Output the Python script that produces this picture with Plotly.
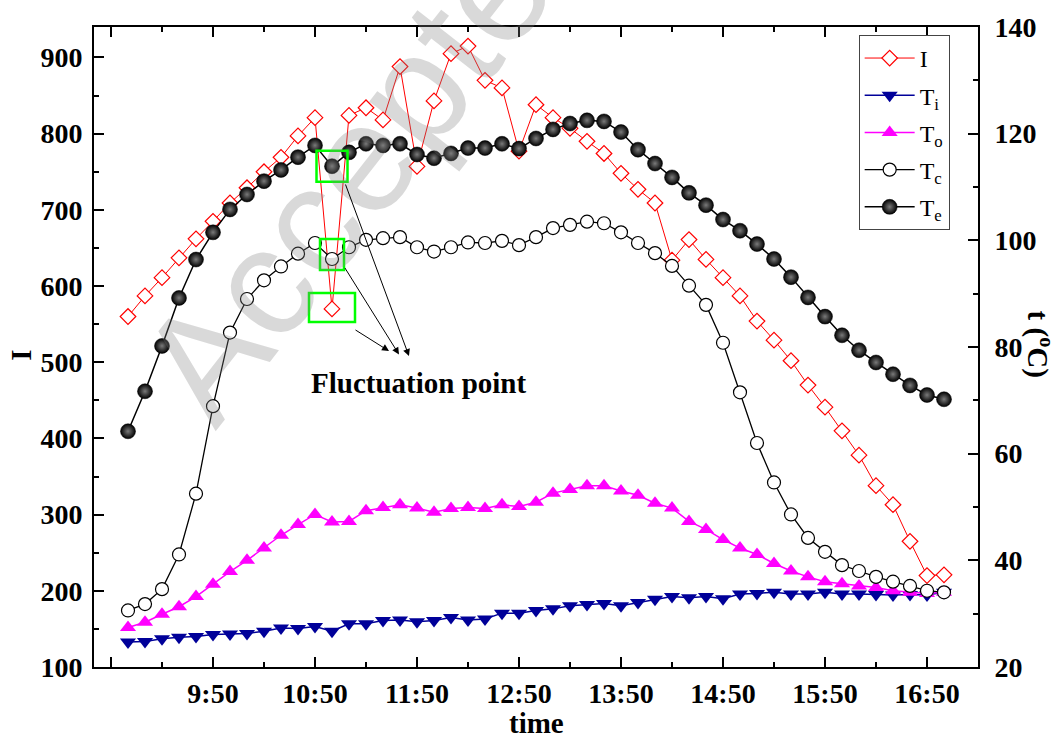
import plotly.graph_objects as go

# ---------------- data ----------------
times = ["9:00", "9:10", "9:20", "9:30", "9:40", "9:50",
         "10:00", "10:10", "10:20", "10:30", "10:40", "10:50",
         "11:00", "11:10", "11:20", "11:30", "11:40", "11:50",
         "12:00", "12:10", "12:20", "12:30", "12:40", "12:50",
         "13:00", "13:10", "13:20", "13:30", "13:40", "13:50",
         "14:00", "14:10", "14:20", "14:30", "14:40", "14:50",
         "15:00", "15:10", "15:20", "15:30", "15:40", "15:50",
         "16:00", "16:10", "16:20", "16:30", "16:40", "16:50",
         "17:00"]

I_vals = [560, 587, 611, 637, 662, 685, 709, 729, 750, 769, 797, 821,
          570, 824, 834, 818, 888, 757, 843, 905, 915, 870, 860, 777,
          838, 821, 807, 790, 774, 748, 727, 709, 634, 661, 635, 611,
          587, 554, 529, 502, 470, 441, 410, 378, 338, 313, 265, 220, 221]

T_i = [24.7, 24.8, 25.3, 25.6, 25.7, 26.1, 26.2, 26.3, 26.7, 27.3, 27.2, 27.6,
       26.7, 28.1, 28.1, 28.7, 28.8, 28.5, 28.7, 29.3, 28.8, 29.0, 30.1, 30.1,
       30.6, 30.9, 31.5, 31.7, 31.9, 31.5, 32.1, 32.7, 33.2, 33.0, 33.2, 32.8,
       33.7, 33.8, 34.0, 33.7, 33.7, 34.0, 33.7, 33.7, 33.6, 33.5, 33.6, 33.5, 34.0]

T_o = [27.4, 28.4, 29.9, 31.3, 33.2, 35.5, 37.9, 40.0, 42.3, 44.7, 46.7, 48.6,
       47.2, 47.3, 49.3, 49.9, 50.4, 49.8, 49.0, 49.7, 49.9, 49.7, 50.4, 50.1,
       50.9, 52.6, 53.3, 54.0, 54.0, 53.0, 52.2, 50.7, 49.8, 47.3, 45.8, 43.9,
       42.3, 41.1, 39.4, 38.0, 36.9, 36.0, 35.6, 35.2, 34.9, 34.3, 34.0, 33.8, 34.0]

T_c = [30.6, 31.8, 34.6, 41.1, 52.5, 68.9, 82.7, 89.0, 92.5, 95.1, 97.5, 99.5,
       96.5, 98.7, 100.1, 100.4, 100.6, 98.7, 97.9, 98.7, 99.6, 99.5, 99.9, 99.1,
       100.6, 102.3, 102.9, 103.5, 103.2, 101.5, 99.5, 97.6, 95.2, 91.5, 87.9, 80.8,
       71.5, 62.0, 54.6, 48.6, 44.2, 41.6, 39.1, 38.0, 36.9, 36.0, 35.2, 34.3, 34.0]

T_e = [64.2, 71.7, 80.2, 89.2, 96.4, 101.5, 105.8, 108.6, 111.1, 113.2, 115.6, 117.8,
       113.9, 116.5, 118.1, 117.8, 118.1, 116.1, 115.4, 116.3, 117.3, 117.3, 118.1, 117.2,
       119.1, 120.8, 121.9, 122.5, 122.3, 120.3, 117.0, 114.4, 111.8, 108.9, 106.6, 103.9,
       101.8, 99.3, 96.5, 93.1, 89.3, 85.7, 82.2, 79.4, 77.1, 74.9, 72.8, 71.0, 70.2]

x_major_ticks = ["8:50", "9:50", "10:50", "11:50", "12:50", "13:50", "14:50", "15:50", "16:50"]
x_major_labels = ["", "9:50", "10:50", "11:50", "12:50", "13:50", "14:50", "15:50", "16:50"]
x_minor_ticks = ["9:20", "10:20", "11:20", "12:20", "13:20", "14:20", "15:20", "16:20"]
x_range = ["8:40", "17:20"]
I_range = [100, 940]
T_range = [20, 140]
fluct_time = "11:00"


def to_min(s):
    h, m = s.split(":")
    return int(h) * 60 + int(m)


x = [to_min(t) for t in times]
fi = times.index(fluct_time)

SERIF = "Liberation Serif, Times New Roman, serif"
SANS = "Liberation Sans, Arial, sans-serif"
NAVY = "#000099"
MAG = "#ff00ff"
RED = "#ff0000"

fig = go.Figure()

fig.add_trace(go.Scatter(
    x=x, y=I_vals, name="I", mode="lines+markers", yaxis="y", legendgroup="g1",
    line=dict(color=RED, width=1),
    marker=dict(symbol="diamond", size=12, color="white",
                line=dict(color=RED, width=1.2))))

fig.add_trace(go.Scatter(
    x=x, y=T_i, name="T<sub>i</sub>", mode="lines+markers", yaxis="y2", legendgroup="g2",
    line=dict(color=NAVY, width=1.5),
    marker=dict(symbol="triangle-down", size=14, color=NAVY, line=dict(width=0))))

fig.add_trace(go.Scatter(
    x=x, y=T_o, name="T<sub>o</sub>", mode="lines+markers", yaxis="y2", legendgroup="g3",
    line=dict(color=MAG, width=1.5),
    marker=dict(symbol="triangle-up", size=14, color=MAG, line=dict(width=0))))

fig.add_trace(go.Scatter(
    x=x, y=T_c, name="T<sub>c</sub>", mode="lines+markers", yaxis="y2", legendgroup="g4",
    line=dict(color="black", width=1.3),
    marker=dict(symbol="circle", size=13, color="white",
                line=dict(color="black", width=1.2))))

fig.add_trace(go.Scatter(
    x=x, y=T_e, name="T<sub>e</sub>", mode="lines+markers", yaxis="y2", legendgroup="g5",
    line=dict(color="black", width=1.5),
    marker=dict(symbol="circle", size=15, color="black",
                gradient=dict(type="radial", color="#7a7a7a"),
                line=dict(color="black", width=0.5))))

tickfont = dict(family=SERIF, size=28, color="black", weight="bold")

fig.update_layout(
    width=1057, height=740, autosize=False,
    margin=dict(l=94, r=79, t=22, b=73, pad=0),
    paper_bgcolor="white", plot_bgcolor="white",
    font=dict(family=SERIF, color="black"),
    showlegend=True,
    legend=dict(x=0.865, y=0.9876, xanchor="left", yanchor="top",
                bgcolor="white", bordercolor="#444", borderwidth=1,
                font=dict(family=SERIF, size=24, color="black"),
                itemwidth=50, tracegroupgap=3),
    xaxis=dict(range=[to_min(v) for v in x_range],
               tickmode="array",
               tickvals=[to_min(v) for v in x_major_ticks],
               ticktext=x_major_labels,
               ticks="inside", ticklen=10, tickwidth=1.5, tickcolor="black",
               minor=dict(tickmode="array", tickvals=[to_min(v) for v in x_minor_ticks],
                          ticks="inside", ticklen=5, tickwidth=1.5, tickcolor="black"),
               showline=True, linewidth=2, linecolor="black", mirror="ticks",
               showgrid=False, zeroline=False, tickfont=tickfont,
               ticklabelstandoff=0),
    yaxis=dict(range=I_range, tickmode="linear", tick0=100, dtick=100,
               ticks="inside", ticklen=10, tickwidth=1.5, tickcolor="black",
               minor=dict(dtick=50, ticks="inside", ticklen=5, tickwidth=1.5, tickcolor="black"),
               showline=True, linewidth=2, linecolor="black",
               showgrid=False, zeroline=False, tickfont=tickfont,
               ticklabelstandoff=4),
    yaxis2=dict(range=T_range, overlaying="y", side="right",
                tickmode="linear", tick0=20, dtick=20,
                ticks="inside", ticklen=10, tickwidth=1.5, tickcolor="black",
                minor=dict(dtick=10, ticks="inside", ticklen=5, tickwidth=1.5, tickcolor="black"),
                showline=True, linewidth=2, linecolor="black",
                showgrid=False, zeroline=False, tickfont=tickfont,
                ticklabelstandoff=9),
)

titlefont = dict(family=SERIF, size=29, color="black", weight="bold")
C = dict(xanchor="center", yanchor="middle", showarrow=False, xref="paper", yref="paper")
ann = []
# watermark
ann.append(dict(text="Accepted", x=0.314, y=0.817, textangle=-52,
                font=dict(family=SANS, size=155,
                          color="rgba(130,130,130,0.30)"), **C))
ann.append(dict(text="I", x=-0.082, y=0.487, textangle=-90, font=titlefont, **C))
ann.append(dict(text="time", x=0.5, y=-0.087, font=titlefont, **C))
ann.append(dict(text="t (<sup>o</sup>C)", x=1.07, y=0.504, textangle=90, font=titlefont, **C))
ann.append(dict(text="Fluctuation point", x=0.367, y=0.4434, font=titlefont, **C))
# arrows (head in paper coords, tail offset in px)
for hx, hy, axp, ayp in [(0.3563, 0.4859, -64, -173),
                         (0.3450, 0.4884, -55, -88),
                         (0.3337, 0.4937, -35, -22)]:
    ann.append(dict(text="", xref="paper", yref="paper", x=hx, y=hy,
                    ax=axp, ay=ayp, showarrow=True, arrowhead=2, arrowsize=1.4,
                    arrowwidth=1, arrowcolor="black", standoff=0))
fig.update_layout(annotations=ann)

GREEN = "#00ff00"
shapes = [
    dict(type="rect", xref="x", yref="y2", xsizemode="pixel", ysizemode="pixel",
         xanchor=x[fi], yanchor=T_e[fi], x0=-15.5, x1=15.5, y0=-15.5, y1=15.5,
         line=dict(color=GREEN, width=2.5)),
    dict(type="rect", xref="x", yref="y2", xsizemode="pixel", ysizemode="pixel",
         xanchor=x[fi], yanchor=T_c[fi], x0=-12, x1=12, y0=-11, y1=20,
         line=dict(color=GREEN, width=2.5)),
    dict(type="rect", xref="x", yref="y", xsizemode="pixel", ysizemode="pixel",
         xanchor=x[fi], yanchor=I_vals[fi], x0=-23, x1=23, y0=-13, y1=16,
         line=dict(color=GREEN, width=2.5)),
]
fig.update_layout(shapes=shapes)

fig.write_html("out.html")
